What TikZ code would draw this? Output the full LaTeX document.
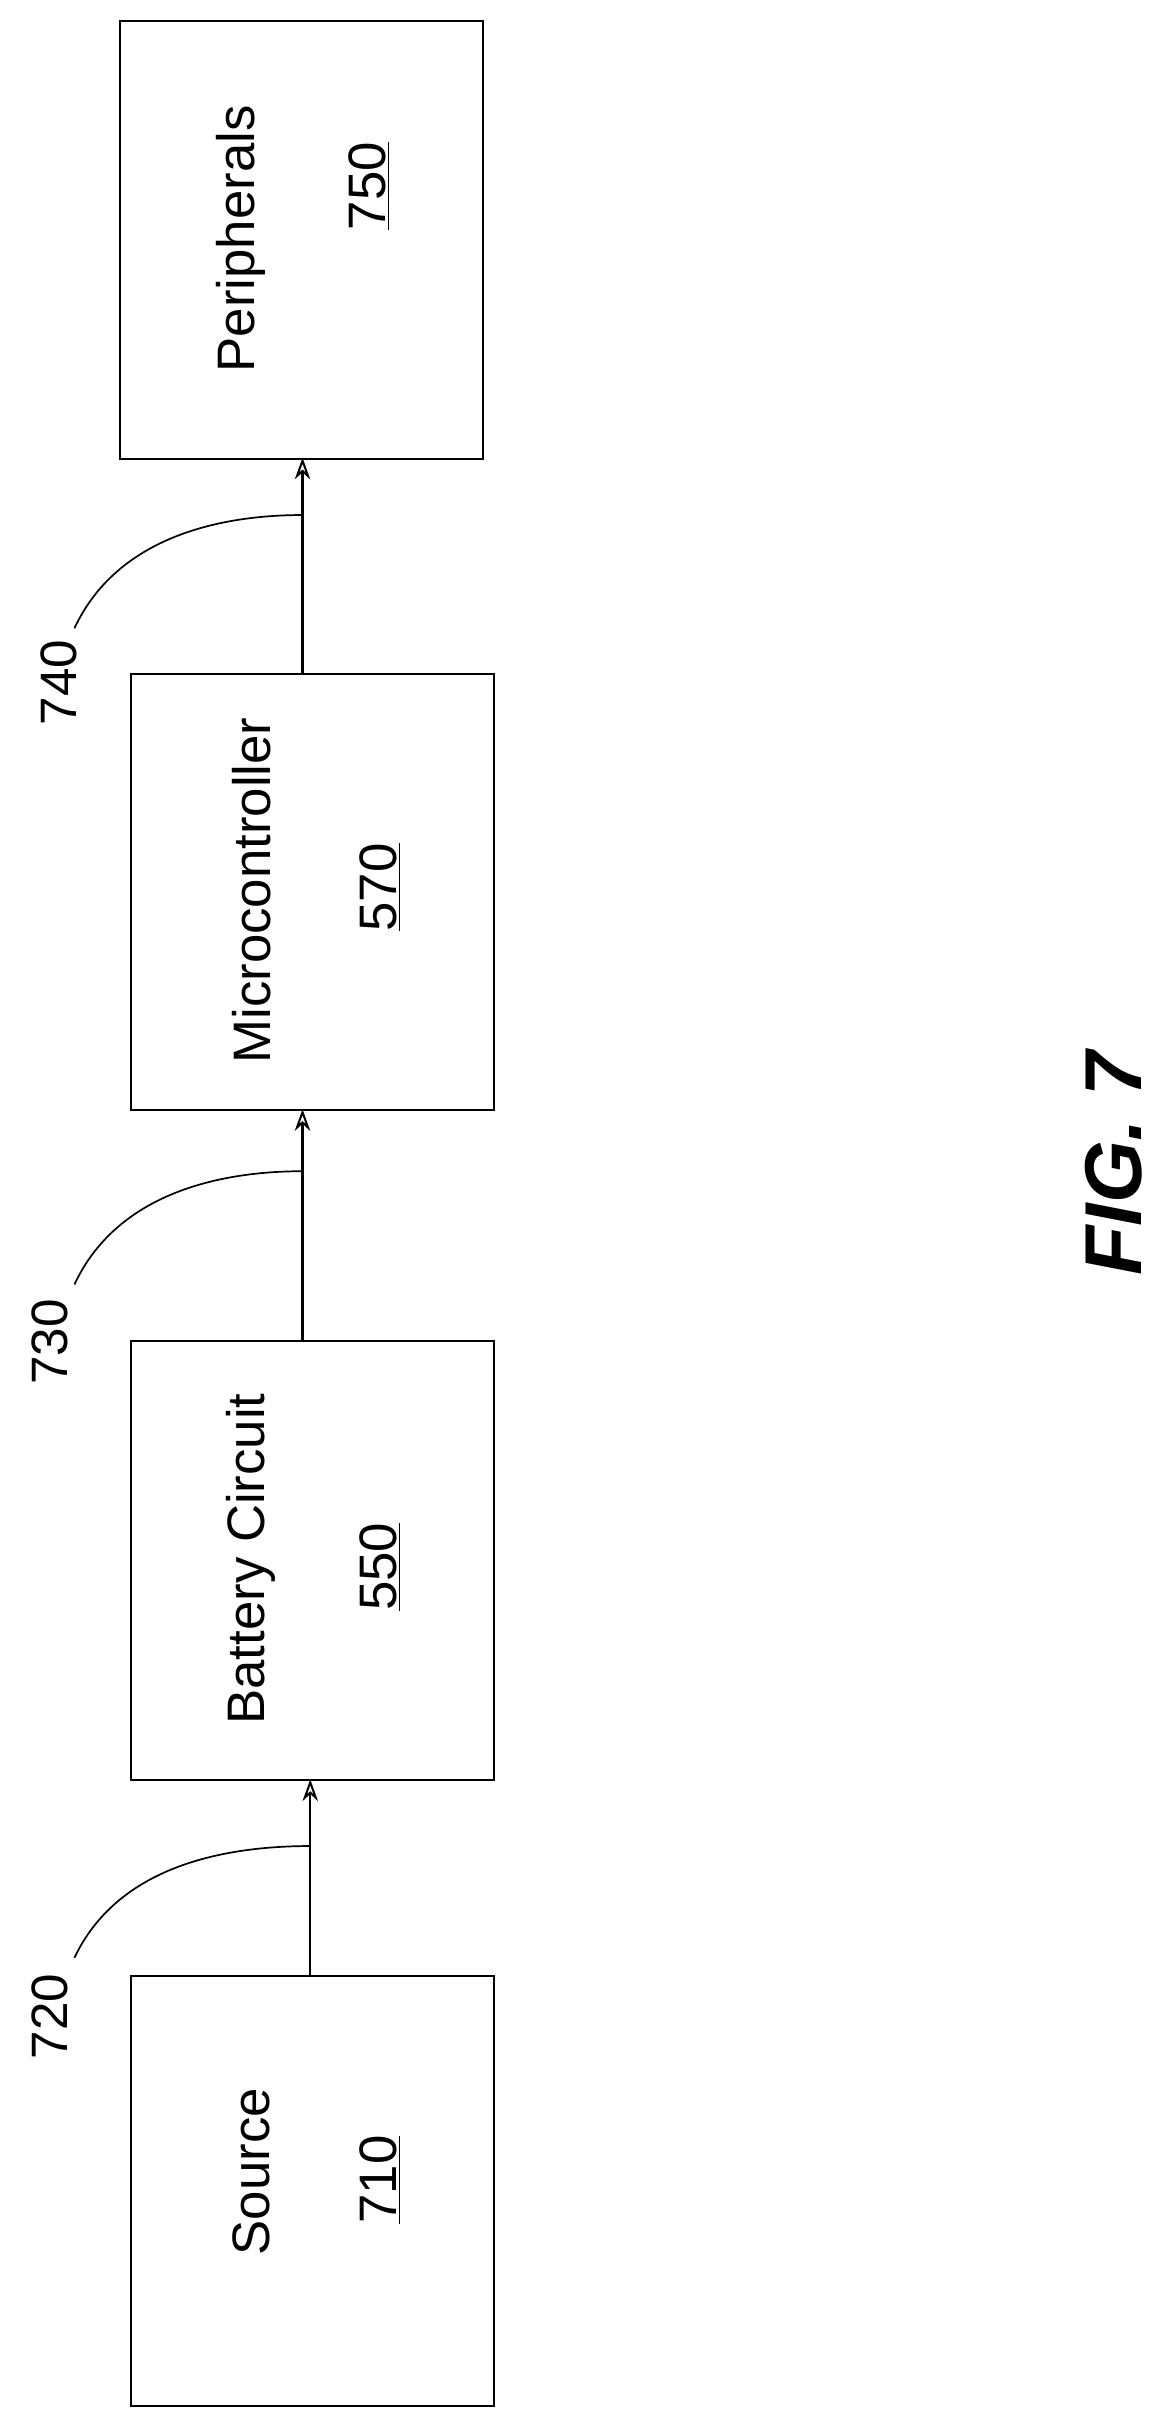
\documentclass[tikz,border=0pt]{standalone}
\usepackage{fontspec}
\setmainfont{Liberation Sans}
\usetikzlibrary{arrows.meta}
\begin{document}
\begin{tikzpicture}[x=1pt,y=-1pt,
  blk/.style={draw,line width=1.3pt,minimum width=234pt,anchor=north west},
  arr/.style={line width=1.3pt,-{Stealth[length=14pt,width=10pt,open]}},
  lead/.style={line width=1.1pt},
  txt/.style={rotate=90,font=\fontsize{34}{38}\selectfont},
  ref/.style={rotate=90,font=\fontsize{33}{37}\selectfont}]
\useasboundingbox (0,0) rectangle (750,1560);
\node[blk,minimum height=282pt] (per) at (77,13) {};
\node[blk,minimum height=281pt] (mic) at (84,434) {};
\node[blk,minimum height=283pt] (bat) at (84,864) {};
\node[blk,minimum height=277pt] (src) at (84,1273) {};
\node[txt] (pert) at (155,154) {Peripherals};
\node[txt] (pern) at (238,120) {\underline{750}};
\node[txt] (mict) at (162,574) {Microcontroller};
\node[txt] (micn) at (245,572) {\underline{570}};
\node[txt] (batt) at (162,1005) {Battery Circuit};
\node[txt] (batn) at (245,1010) {\underline{550}};
\node[txt] (srct) at (162,1400) {Source};
\node[txt] (srcn) at (245,1405) {\underline{710}};
\coordinate (a1) at (200,1273); \coordinate (b1) at (200,1147);
\coordinate (a2) at (195,864); \coordinate (b2) at (195,715);
\coordinate (a3) at (195,434); \coordinate (b3) at (195,295);
\draw[arr] (a1) -- (b1);
\draw[arr] (a2) -- (b2);
\draw[arr] (a3) -- (b3);
\node[ref] (r720) at (32,1300) {720};
\node[ref] (r730) at (32,865) {730};
\node[ref] (r740) at (38,440) {740};
\coordinate (c1) at (200,1190);
\coordinate (c2) at (195,755);
\coordinate (c3) at (195,332);
\draw[lead] (48,1262) .. controls (75,1205) and (140,1190) .. (c1);
\draw[lead] (48,828) .. controls (75,770) and (140,755) .. (c2);
\draw[lead] (48,405) .. controls (75,347) and (140,332) .. (c3);
\node[rotate=90,font=\fontsize{52}{56}\selectfont\bfseries\itshape] (fig) at (718,750) {FIG. 7};
\end{tikzpicture}
\end{document}
